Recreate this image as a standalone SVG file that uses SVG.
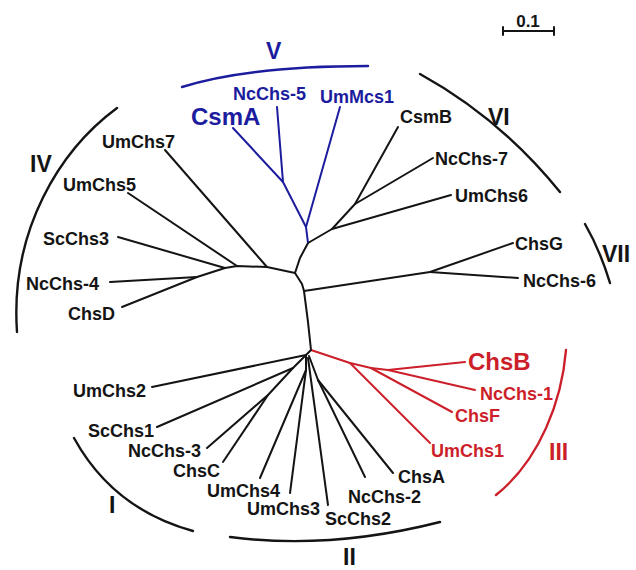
<svg xmlns="http://www.w3.org/2000/svg" width="636" height="570" viewBox="0 0 636 570">
  <style>
    text { font-family: "Liberation Sans", Arial, sans-serif; font-weight: bold; }
    .lbl { font-size: 18px; }
    .big { font-size: 24px; }
    .num { font-size: 23px; }
    .blk { fill: #141414; }
    .blu { fill: #1c1c9e; }
    .red { fill: #cc1f2a; }
    .br { fill: none; stroke-width: 2; stroke-linecap: round; stroke-linejoin: round; }
    .k { stroke: #141414; }
    .b { stroke: #1c1c9e; }
    .r { stroke: #cc1f2a; }
    .arc { fill: none; stroke-width: 2.4; stroke-linecap: round; }
  </style>
  <rect width="636" height="570" fill="#ffffff"/>

  <!-- tree branches -->
  <g id="connectors">
    <!-- backbone -->
    <polyline class="br k" points="295,273 302,284 304,291 308,322 311,350"/>
    <polyline class="br k" points="295,273 300,258 308,243"/>
    <!-- clade IV -->
    <polyline class="br k" points="295,273 267,267 237,266 225,268 197,277"/>
    <line class="br k" x1="267" y1="267" x2="165" y2="150"/>
    <line class="br k" x1="237" y1="266" x2="128" y2="193"/>
    <line class="br k" x1="225" y1="268" x2="118" y2="237"/>
    <line class="br k" x1="197" y1="277" x2="110" y2="282"/>
    <line class="br k" x1="197" y1="277" x2="122" y2="307"/>
    <!-- clade V -->
    <polyline class="br b" points="308,243 306,227 283,182 233,128"/>
    <line class="br b" x1="283" y1="182" x2="277" y2="107"/>
    <line class="br b" x1="306" y1="227" x2="340" y2="107"/>
    <!-- clade VI -->
    <polyline class="br k" points="308,243 332,229 355,204 398,127"/>
    <line class="br k" x1="355" y1="204" x2="433" y2="158"/>
    <line class="br k" x1="332" y1="229" x2="451" y2="195"/>
    <!-- clade VII -->
    <polyline class="br k" points="304,291 430,272 513,243"/>
    <line class="br k" x1="430" y1="272" x2="518" y2="278"/>
    <!-- clade III -->
    <polyline class="br r" points="311,350 350,363 371,368 388,370 465,362"/>
    <line class="br r" x1="350" y1="363" x2="430" y2="443"/>
    <line class="br r" x1="371" y1="368" x2="452" y2="412"/>
    <line class="br r" x1="388" y1="370" x2="475" y2="390"/>
    <!-- clades I and II -->
    <polyline class="br k" points="311,350 306,355 152,387"/>
    <polyline class="br k" points="306,355 293,368 157,427"/>
    <polyline class="br k" points="293,368 268,395 207,448"/>
    <line class="br k" x1="268" y1="395" x2="223" y2="462"/>
    <polyline class="br k" points="306,355 306,370 260,478"/>
    <line class="br k" x1="306" y1="370" x2="290" y2="493"/>
    <line class="br k" x1="308" y1="358" x2="328" y2="505"/>
    <polyline class="br k" points="309,356 318,380 365,477"/>
    <line class="br k" x1="318" y1="380" x2="393" y2="473"/>
  </g>

  <!-- clade brackets -->
  <g id="brackets">
    <path class="arc k" d="M117,108 C60,150 10,230 17,332"/>
    <path class="arc b" d="M182,87 C230,72 290,66 368,66"/>
    <path class="arc k" d="M420,74 Q500,118 560,192"/>
    <path class="arc k" d="M585,224 Q600,250 610,283"/>
    <path class="arc r" d="M566,350 C562,400 540,460 496,495"/>
    <path class="arc k" d="M230,537 Q330,550 440,522"/>
    <path class="arc k" d="M74,438 Q113,509 193,531"/>
  </g>

  <!-- leaf labels -->
  <g id="clade-IV">
    <text class="lbl blk" x="102" y="148">UmChs7</text>
    <text class="lbl blk" x="63" y="191">UmChs5</text>
    <text class="lbl blk" x="43" y="245">ScChs3</text>
    <text class="lbl blk" x="26" y="290">NcChs-4</text>
    <text class="lbl blk" x="68" y="320">ChsD</text>
    <text class="num blk" x="30" y="172">IV</text>
  </g>
  <g id="clade-V">
    <text class="big blu" x="191" y="125">CsmA</text>
    <text class="lbl blu" x="233" y="100">NcChs-5</text>
    <text class="lbl blu" x="320" y="103">UmMcs1</text>
    <text class="num blu" x="266" y="59">V</text>
  </g>
  <g id="clade-VI">
    <text class="lbl blk" x="400" y="123">CsmB</text>
    <text class="lbl blk" x="435" y="165">NcChs-7</text>
    <text class="lbl blk" x="455" y="202">UmChs6</text>
    <text class="num blk" x="488" y="125">VI</text>
  </g>
  <g id="clade-VII">
    <text class="lbl blk" x="515" y="250">ChsG</text>
    <text class="lbl blk" x="523" y="287">NcChs-6</text>
    <text class="num blk" x="602" y="262">VII</text>
  </g>
  <g id="clade-III">
    <text class="big red" x="468" y="370">ChsB</text>
    <text class="lbl red" x="480" y="400">NcChs-1</text>
    <text class="lbl red" x="455" y="422">ChsF</text>
    <text class="lbl red" x="431" y="457">UmChs1</text>
    <text class="num red" x="549" y="460">III</text>
  </g>
  <g id="clade-I">
    <text class="lbl blk" x="73" y="397">UmChs2</text>
    <text class="lbl blk" x="88" y="437">ScChs1</text>
    <text class="lbl blk" x="128" y="457">NcChs-3</text>
    <text class="lbl blk" x="173" y="477">ChsC</text>
    <text class="num blk" x="109" y="513">I</text>
  </g>
  <g id="clade-II">
    <text class="lbl blk" x="207" y="497">UmChs4</text>
    <text class="lbl blk" x="247" y="515">UmChs3</text>
    <text class="lbl blk" x="325" y="525">ScChs2</text>
    <text class="lbl blk" x="348" y="503">NcChs-2</text>
    <text class="lbl blk" x="398" y="483">ChsA</text>
    <text class="num blk" x="343" y="565">II</text>
  </g>

  <!-- scale bar -->
  <g id="scale">
    <line class="br k" x1="503" y1="31" x2="554" y2="31"/>
    <line class="br k" x1="503" y1="27" x2="503" y2="35"/>
    <line class="br k" x1="554" y1="27" x2="554" y2="35"/>
    <text class="blk" x="528" y="27" font-size="17" text-anchor="middle">0.1</text>
  </g>
</svg>
